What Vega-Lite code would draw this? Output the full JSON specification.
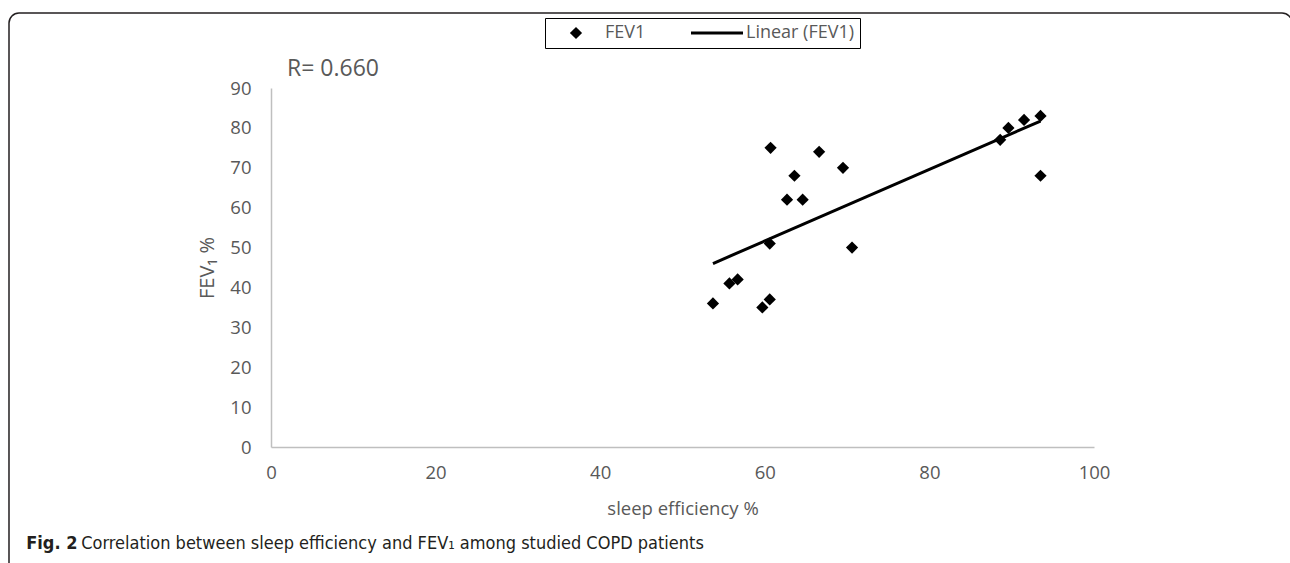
{
  "$schema": "https://vega.github.io/schema/vega-lite/v6.json",
  "background": "white",
  "padding": {"left": 8, "top": 12, "right": 0, "bottom": 0},
  "title": {"text": "Fig. 2", "orient": "bottom", "anchor": "start", "baseline": "alphabetic", "offset": -25, "dx": 18, "font": "Liberation Sans Narrow, DejaVu Sans Condensed, sans-serif", "fontSize": 18, "fontWeight": "bold", "color": "#231f20"},
  "vconcat": [
    {
      "title": {"text": "Correlation between sleep efficiency and FEV₁ among studied COPD patients", "orient": "bottom", "anchor": "start", "baseline": "alphabetic", "offset": -25, "dx": 73, "font": "Liberation Sans Narrow, DejaVu Sans Condensed, sans-serif", "fontSize": 18, "fontWeight": "normal", "color": "#231f20"},
      "vconcat": [
        {
          "width": 1283,
          "height": 560,
          "title": {"text": "R= 0.660", "orient": "top", "anchor": "start", "frame": "group", "baseline": "alphabetic", "offset": -86, "dx": 278, "font": "Open Sans", "fontSize": 23, "fontWeight": "normal", "color": "#595959"},
          "data": {
            "values": [
              {"x": 53.7, "y": 36},
              {"x": 55.7, "y": 41},
              {"x": 56.7, "y": 42},
              {"x": 59.7, "y": 35},
              {"x": 60.6, "y": 37},
              {"x": 60.6, "y": 51},
              {"x": 60.7, "y": 75},
              {"x": 62.7, "y": 62},
              {"x": 63.6, "y": 68},
              {"x": 64.6, "y": 62},
              {"x": 66.6, "y": 74},
              {"x": 69.5, "y": 70},
              {"x": 70.6, "y": 50},
              {"x": 88.6, "y": 77},
              {"x": 89.6, "y": 80},
              {"x": 91.5, "y": 82},
              {"x": 93.5, "y": 83},
              {"x": 93.5, "y": 68}
            ]
          },
          "encoding": {
            "x": {
              "field": "x", "type": "quantitative", "title": "sleep efficiency %",
              "scale": {"domain": [0, 100], "range": [262, 1085], "nice": false, "zero": false},
              "axis": {"orient": "bottom", "offset": -126, "values": [0, 20, 40, 60, 80, 100], "ticks": false, "grid": false, "labelFlush": false, "domainColor": "#bfbfbf", "domainWidth": 1.5, "labelFont": "Open Sans", "labelFontSize": 18.5, "labelColor": "#595959", "labelPadding": 16, "titleFont": "Open Sans", "titleFontSize": 18.5, "titleColor": "#595959", "titleFontWeight": "normal", "titlePadding": 18}
            },
            "y": {
              "field": "y", "type": "quantitative", "title": "FEV₁ %",
              "scale": {"domain": [0, 90], "range": [434, 75], "nice": false, "zero": false},
              "axis": {"orient": "left", "offset": -262, "values": [0, 10, 20, 30, 40, 50, 60, 70, 80, 90], "ticks": false, "grid": false, "labelFlush": false, "domainColor": "#bfbfbf", "domainWidth": 1.5, "labelFont": "Open Sans", "labelFontSize": 18.5, "labelColor": "#595959", "labelPadding": 20, "titleFont": "Open Sans", "titleFontSize": 20, "titleColor": "#595959", "titleFontWeight": "normal", "titlePadding": 12}
            }
          },
          "layer": [
            {
              "mark": {"type": "point", "filled": true, "size": 2704, "color": "#000000", "strokeWidth": 0, "opacity": 1},
              "encoding": {
                "shape": {
                  "datum": "FEV1",
                  "scale": {"domain": ["FEV1", "Linear (FEV1)"], "range": ["M0,-0.235L0.235,0L0,0.235L-0.235,0Z", "M-1,-0.06L1,-0.06L1,0.06L-1,0.06Z"]},
                  "legend": {
                    "orient": "none", "legendX": 536, "legendY": 5, "direction": "horizontal", "title": null,
                    "padding": 5, "columnPadding": 45, "clipHeight": 20, "symbolSize": 2704, "labelOffset": 3,
                    "symbolFillColor": "#000000", "symbolStrokeColor": "#000000", "symbolStrokeWidth": 0, "symbolOpacity": 1,
                    "labelFont": "Open Sans", "labelFontSize": 18, "labelColor": "#595959", "strokeColor": "#000000"
                  }
                }
              }
            },
            {
              "transform": [{"regression": "y", "on": "x"}],
              "mark": {"type": "line", "strokeWidth": 3, "color": "#000000"},
              "encoding": {}
            }
          ]
        }
      ]
    }
  ],
  "config": {
    "view": {"stroke": "#231f20", "strokeWidth": 1.5, "cornerRadius": 10, "fill": "white"},
    "font": "Open Sans",
    "axis": {"grid": false, "ticks": false, "labelFlush": false}
  }
}
